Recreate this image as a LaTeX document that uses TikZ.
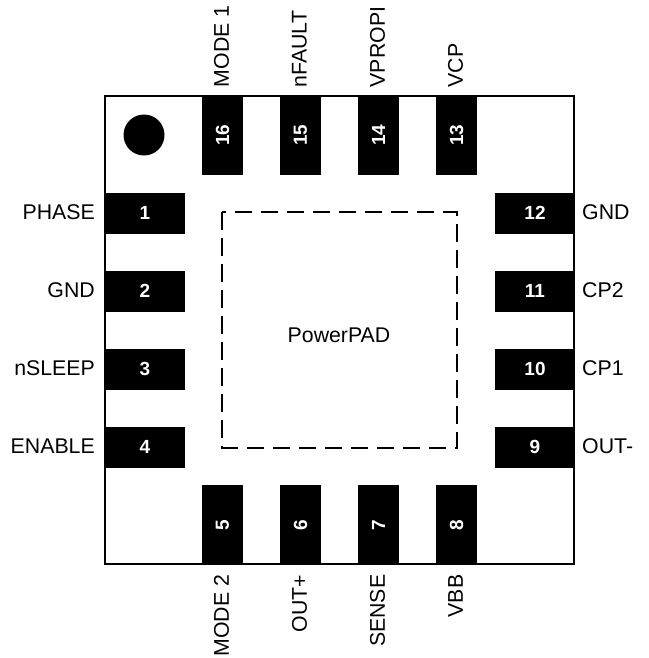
\documentclass[tikz,border=0pt]{standalone}
\usepackage{fontspec}
\setmainfont{Liberation Sans}
\begin{document}
\begin{tikzpicture}[x=1pt,y=-1pt,
 pin/.style={fill=black,text=white,inner sep=0pt,minimum width=80pt,minimum height=41pt,font=\fontsize{19}{20}\selectfont\bfseries,align=center},
 lab/.style={inner sep=0pt,font=\fontsize{21.3}{22}\selectfont},
 padline/.style={line width=2pt,dash pattern=on 17.5pt off 8.5pt}]
\useasboundingbox (0,0) rectangle (648,658);
\node[draw=black,line width=2pt,minimum width=469.5pt,minimum height=468.5pt,inner sep=0pt] (body) at (339.5,330.2) {};
\node[circle,fill=black,minimum size=41pt,inner sep=0pt] (dot) at (144,135) {};
\node[draw=none,minimum width=234.7pt,minimum height=234.7pt,inner sep=0pt] (pad) at (339.4,330) {};
\draw[padline] (pad.north west) -- (pad.south west) -- (pad.south east) -- (pad.north east) -- cycle;
\node[lab] (padl) at (339,335) {PowerPAD};
\foreach \n/\y/\t in {1/213/PHASE,2/291/GND,3/369/nSLEEP,4/447/ENABLE}{
 \node[pin] (p\n) at (145,\y) {\n};
 \node[lab,anchor=east] (l\n) at (95,\y-1) {\t};
}
\foreach \n/\y/\t in {12/213/GND,11/291/CP2,10/369/CP1,9/447/OUT-}{
 \node[pin] (p\n) at (535,\y) {\n};
 \node[lab,anchor=west] (l\n) at (582,\y-1) {\t};
}
\foreach \n/\x/\t in {16/222.5/MODE 1,15/300.5/nFAULT,14/378.5/VPROPI,13/456.5/VCP}{
 \node[pin,rotate=90] (p\n) at (\x,135) {\n};
 \node[lab,rotate=90,anchor=west] (l\n) at (\x-1,87.5) {\t};
}
\foreach \n/\x/\t in {5/222.5/MODE 2,6/300.5/OUT+,7/378.5/SENSE,8/456.5/VBB}{
 \node[pin,rotate=90] (p\n) at (\x,525) {\n};
 \node[lab,rotate=90,anchor=east] (l\n) at (\x-1,574.5) {\t};
}
\end{tikzpicture}
\end{document}
